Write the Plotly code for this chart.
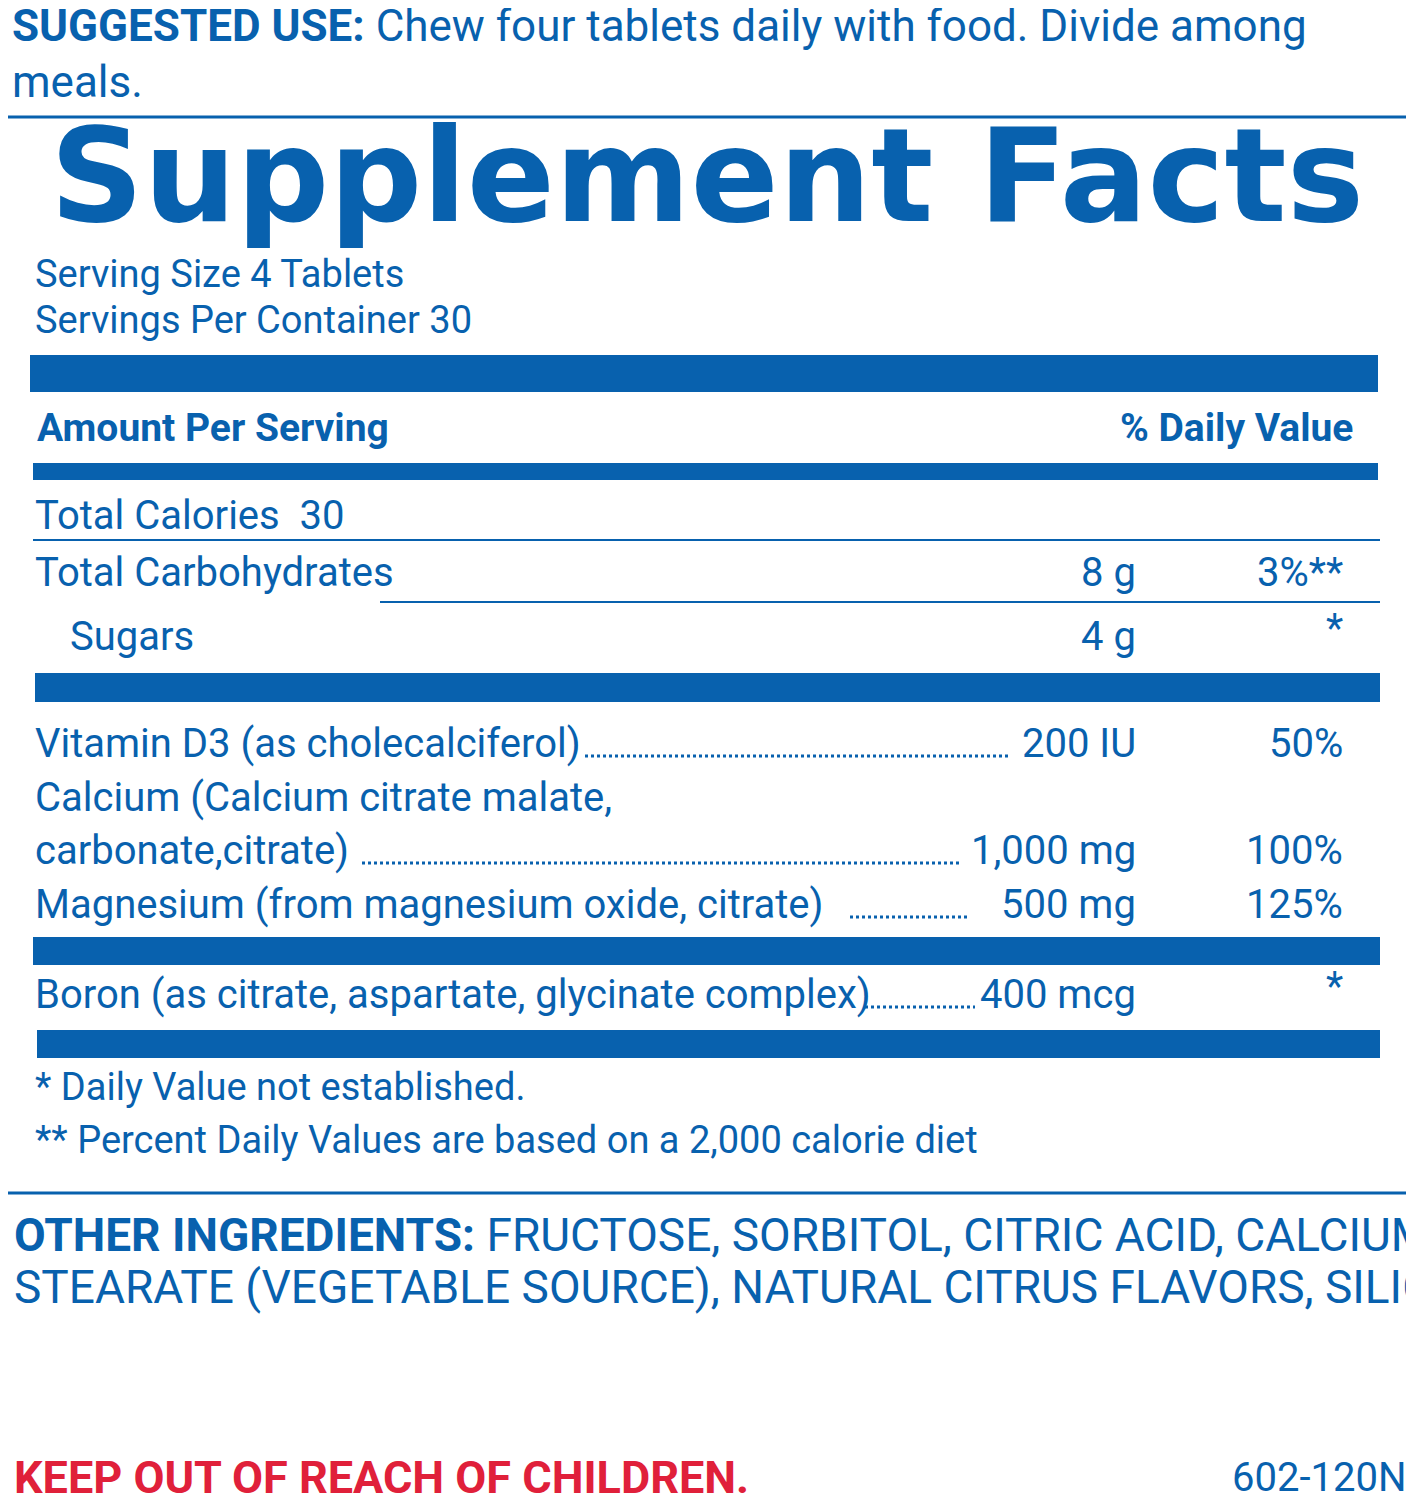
import plotly.graph_objects as go

BLUE = "#0861AE"
RED = "#E0203A"
NARROW = "Roboto, sans-serif"

serving_lines = ["Serving Size 4 Tablets", "Servings Per Container 30"]
macro_labels = ["Total Calories  30", "Total Carbohydrates", "Sugars"]
macro_amounts = ["", "8 g", "4 g"]
macro_dv = ["", "3%**", "*"]
nutrient_labels = ["Vitamin D3 (as cholecalciferol)", "carbonate,citrate)",
                   "Magnesium (from magnesium oxide, citrate)",
                   "Boron (as citrate, aspartate, glycinate complex)"]
nutrient_amounts = ["200 IU", "1,000 mg", "500 mg", "400 mcg"]
nutrient_dv = ["50%", "100%", "125%", "*"]
footnotes = ["* Daily Value not established.",
             "** Percent Daily Values are based on a 2,000 calorie diet"]

fig = go.Figure()
shapes = []
ann = []

def txt(x, y, s, size, anchor="left", color=BLUE, family=NARROW):
    ann.append(dict(x=x, y=y, text=s, showarrow=False, xanchor=anchor, yanchor="middle",
                    font=dict(size=size, color=color, family=family)))

def bar(x0, x1, y0, y1):
    shapes.append(dict(type="rect", x0=x0, x1=x1, y0=y0, y1=y1, fillcolor=BLUE, line_width=0))

def hline(x0, x1, y, w=2, dash="solid"):
    shapes.append(dict(type="line", x0=x0, x1=x1, y0=y, y1=y, line=dict(color=BLUE, width=w, dash=dash)))

txt(10, 26, "<b>SUGGESTED USE:</b> Chew four tablets daily with food. Divide among", 44)
txt(10, 82, "meals.", 44)
shapes.append(dict(type="rect", x0=5, x1=1408, y0=117, y1=1193, line=dict(color=BLUE, width=3)))
txt(707, 176, "<b>Supplement Facts</b>", 130, anchor="center", family="DejaVu Sans, sans-serif")
for i, s in enumerate(serving_lines):
    txt(33, 274 + 46 * i, s, 38)
bar(30, 1378, 355, 392)
txt(35, 428, "<b>Amount Per Serving</b>", 39)
txt(1355, 428, "<b>% Daily Value</b>", 39, anchor="right")
bar(33, 1378, 463, 480)
ys = [515, 572, 636]
for i in range(3):
    txt(68 if i == 2 else 33, ys[i], macro_labels[i], 40)
    if macro_amounts[i]:
        txt(1138, ys[i], macro_amounts[i], 40, anchor="right")
    if macro_dv[i]:
        txt(1345, ys[i] - (8 if macro_dv[i] == "*" else 0), macro_dv[i], 40, anchor="right")
hline(33, 1380, 540)
hline(380, 1380, 602)
bar(35, 1380, 673, 702)
txt(33, 797, "Calcium (Calcium citrate malate,", 40)
nys = [743, 850, 904, 994]
dots = [(585, 1010), (362, 962), (850, 968), (865, 975)]
for i in range(4):
    txt(33, nys[i], nutrient_labels[i], 40)
    txt(1138, nys[i], nutrient_amounts[i], 40, anchor="right")
    txt(1345, nys[i] - (8 if nutrient_dv[i] == "*" else 0), nutrient_dv[i], 40, anchor="right")
    hline(dots[i][0], dots[i][1], nys[i] + 13, w=3, dash="dot")
bar(33, 1380, 937, 965)
bar(37, 1380, 1030, 1058)
for i, s in enumerate(footnotes):
    txt(33, 1087 + 53 * i, s, 38)
txt(12, 1235, "<b>OTHER INGREDIENTS:</b> FRUCTOSE, SORBITOL, CITRIC ACID, CALCIUM", 46)
txt(12, 1287, "STEARATE (VEGETABLE SOURCE), NATURAL CITRUS FLAVORS, SILICA.", 46)
txt(12, 1477, "<b>KEEP OUT OF REACH OF CHILDREN.</b>", 45, color=RED)
txt(1408, 1477, "602-120N", 40, anchor="right")

fig.update_layout(width=1414, height=1500, margin=dict(l=0, r=0, t=0, b=0),
                  paper_bgcolor="white", plot_bgcolor="white",
                  xaxis=dict(range=[8, 1422], visible=False, fixedrange=True),
                  yaxis=dict(range=[1508, 8], visible=False, fixedrange=True),
                  shapes=shapes, annotations=ann, showlegend=False)
fig.write_html("out.html")
